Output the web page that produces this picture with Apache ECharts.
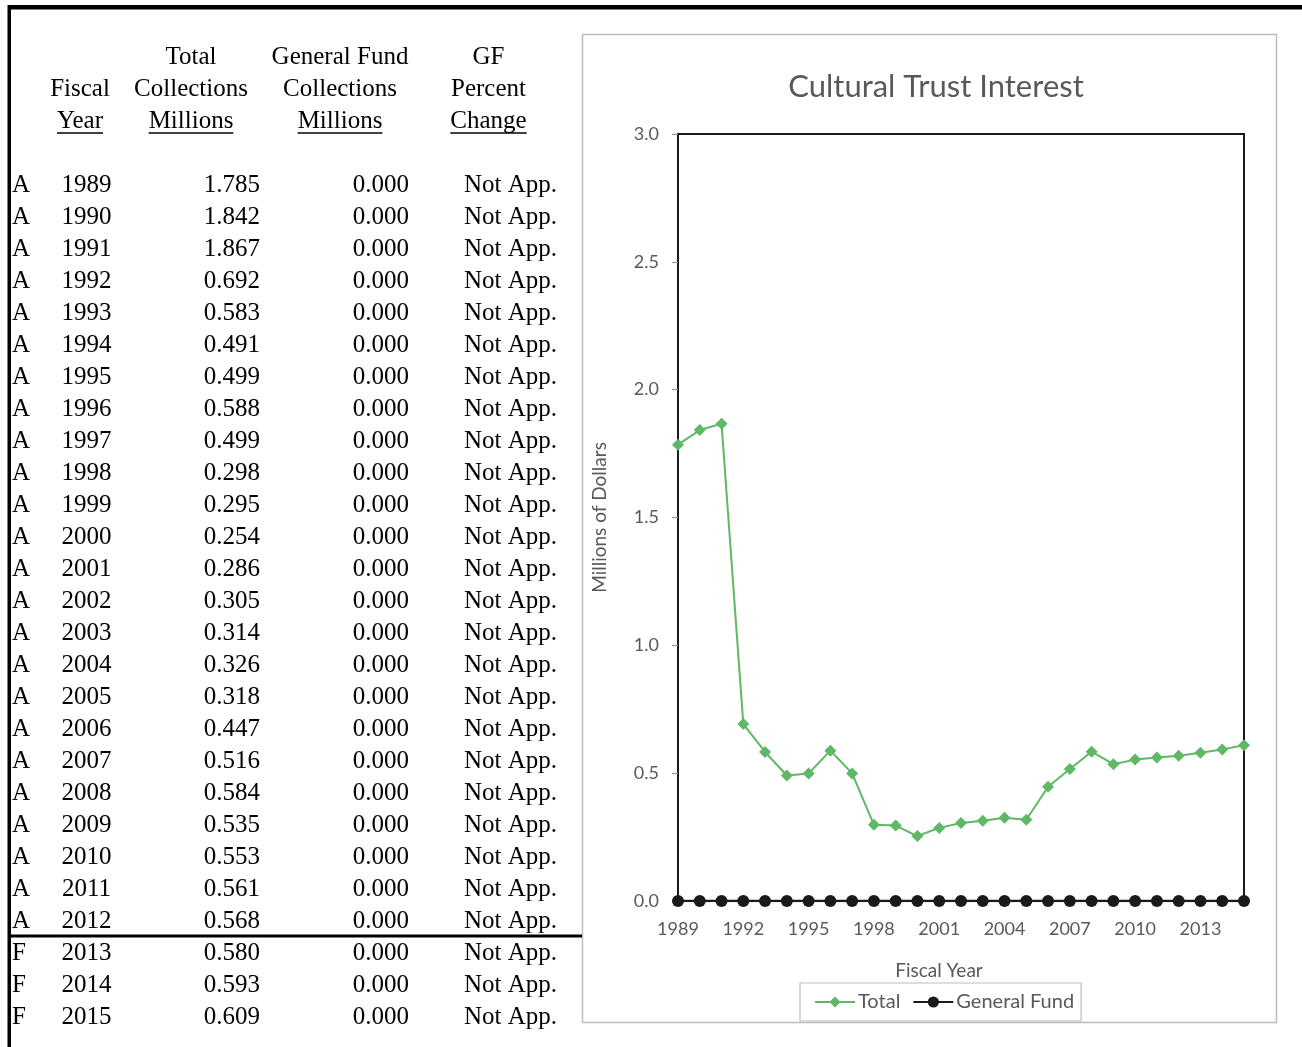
<!DOCTYPE html>
<html>
<head>
<meta charset="utf-8">
<title>Cultural Trust Interest</title>
<script src="https://cdn.jsdelivr.net/npm/echarts@6/dist/echarts.min.js"></script>
<style>
  html, body { margin: 0; padding: 0; background: #ffffff; }
  #chart { width: 1302px; height: 1047px; }
</style>
</head>
<body>
<div id="chart"></div>
<script>
// Fiscal year data: A = actual, F = forecast
const statusCodes = ['A','A','A','A','A','A','A','A','A','A','A','A','A','A','A','A','A','A','A','A','A','A','A','A','F','F','F'];
const fiscalYears = ['1989','1990','1991','1992','1993','1994','1995','1996','1997','1998','1999','2000','2001','2002','2003','2004','2005','2006','2007','2008','2009','2010','2011','2012','2013','2014','2015'];
const totalMillions = [1.785,1.842,1.867,0.692,0.583,0.491,0.499,0.588,0.499,0.298,0.295,0.254,0.286,0.305,0.314,0.326,0.318,0.447,0.516,0.584,0.535,0.553,0.561,0.568,0.580,0.593,0.609];
const generalFundMillions = [0,0,0,0,0,0,0,0,0,0,0,0,0,0,0,0,0,0,0,0,0,0,0,0,0,0,0];
const gfPercentChange = ['Not App.','Not App.','Not App.','Not App.','Not App.','Not App.','Not App.','Not App.','Not App.','Not App.','Not App.','Not App.','Not App.','Not App.','Not App.','Not App.','Not App.','Not App.','Not App.','Not App.','Not App.','Not App.','Not App.','Not App.','Not App.','Not App.','Not App.'];
const yTicks = { min: 0, max: 3, interval: 0.5 };

const serif = '"Liberation Serif", "Times New Roman", serif';
const sans = 'Lato, "Noto Sans", sans-serif';
const tableFontSize = 25;
const green = '#5fb865';
const ink = '#1a1a1a';
const labelGray = '#595959';

// Measure text so header underlines fit the words
const measureCtx = document.createElement('canvas').getContext('2d');
measureCtx.font = tableFontSize + 'px ' + serif;
function textWidth(s) { return measureCtx.measureText(s).width; }

const graphics = [];

// Outer frame of the page
graphics.push({ type: 'rect', shape: { x: 8, y: 5, width: 1294, height: 4.5 }, style: { fill: '#000' }, z: 10 });
graphics.push({ type: 'rect', shape: { x: 7.5, y: 5, width: 3.5, height: 1042 }, style: { fill: '#000' }, z: 10 });

// Chart area box
graphics.push({ type: 'rect', shape: { x: 582.5, y: 34.5, width: 694, height: 988 }, style: { fill: 'none', stroke: '#bdbdbd', lineWidth: 1.5 }, z: 0 });

function tableText(str, x, y, align) {
  graphics.push({
    type: 'text', x: x, y: y, z: 10,
    style: { text: str, font: tableFontSize + 'px ' + serif, fill: '#000', align: align, verticalAlign: 'middle' }
  });
}
function underline(str, cx, y) {
  const w = textWidth(str);
  graphics.push({ type: 'line', z: 10, shape: { x1: cx - w / 2, y1: y, x2: cx + w / 2, y2: y }, style: { stroke: '#000', lineWidth: 1.6 } });
}

// Column headers
const headerRows = [57, 89, 121];
const colCenters = { year: 80, total: 191, gf: 340, pct: 488.5 };
tableText('Total', colCenters.total, headerRows[0], 'center');
tableText('General Fund', colCenters.gf, headerRows[0], 'center');
tableText('GF', colCenters.pct, headerRows[0], 'center');
tableText('Fiscal', colCenters.year, headerRows[1], 'center');
tableText('Collections', colCenters.total, headerRows[1], 'center');
tableText('Collections', colCenters.gf, headerRows[1], 'center');
tableText('Percent', colCenters.pct, headerRows[1], 'center');
tableText('Year', colCenters.year, headerRows[2], 'center');
tableText('Millions', colCenters.total, headerRows[2], 'center');
tableText('Millions', colCenters.gf, headerRows[2], 'center');
tableText('Change', colCenters.pct, headerRows[2], 'center');
underline('Year', colCenters.year, 133);
underline('Millions', colCenters.total, 133);
underline('Millions', colCenters.gf, 133);
underline('Change', colCenters.pct, 133);

// Table body
fiscalYears.forEach(function (yr, i) {
  const y = 185 + 32 * i;
  tableText(statusCodes[i], 12, y, 'left');
  tableText(yr, 86.5, y, 'center');
  tableText(totalMillions[i].toFixed(3), 260, y, 'right');
  tableText(generalFundMillions[i].toFixed(3), 409, y, 'right');
  tableText(gfPercentChange[i], 464, y, 'left');
});

// Rule between actual and forecast years
const lastActual = statusCodes.lastIndexOf('A');
const ruleY = 184 + 32 * lastActual + 16;
graphics.push({ type: 'rect', z: 10, shape: { x: 8, y: ruleY - 1.5, width: 574, height: 3 }, style: { fill: '#000' } });

const chart = echarts.init(document.getElementById('chart'), null, { renderer: 'canvas' });
chart.setOption({
  animation: false,
  backgroundColor: '#ffffff',
  title: {
    text: 'Cultural Trust Interest',
    left: 931, top: 66, textAlign: 'center',
    textStyle: { fontFamily: sans, fontSize: 31, fontWeight: 'normal', color: labelGray }
  },
  grid: {
    left: 678, top: 134, right: 58, bottom: 146,
    show: true, borderColor: ink, borderWidth: 2, backgroundColor: 'transparent'
  },
  legend: {
    left: 800, top: 983,
    padding: [9, 7, 9, 14],
    itemGap: 12, itemWidth: 40, itemHeight: 14,
    borderColor: '#bdbdbd', borderWidth: 1.2,
    textStyle: { fontFamily: sans, fontSize: 20, color: labelGray, padding: [0, 0, 0, -2] },
    data: ['Total', 'General Fund']
  },
  xAxis: {
    type: 'category',
    data: fiscalYears,
    boundaryGap: false,
    name: 'Fiscal Year',
    nameLocation: 'middle',
    nameGap: 60,
    nameTextStyle: { fontFamily: sans, fontSize: 19, color: labelGray, padding: [0, 44, 0, 0] },
    axisLine: { show: true, lineStyle: { color: ink, width: 2 } },
    axisTick: { show: false },
    axisLabel: { interval: 2, margin: 19, fontFamily: sans, fontSize: 18, color: labelGray },
    splitLine: { show: false }
  },
  yAxis: {
    type: 'value',
    min: yTicks.min, max: yTicks.max, interval: yTicks.interval,
    name: 'Millions of Dollars',
    nameLocation: 'middle',
    nameGap: 69,
    nameTextStyle: { fontFamily: sans, fontSize: 19, color: labelGray },
    axisLine: { show: true, lineStyle: { color: ink, width: 2 } },
    axisTick: { show: true, length: 6, lineStyle: { color: '#8c8c8c', width: 1 } },
    axisLabel: { margin: 19, fontFamily: sans, fontSize: 18, color: labelGray, formatter: function (v) { return v.toFixed(1); } },
    splitLine: { show: false }
  },
  series: [
    {
      name: 'Total', type: 'line', data: totalMillions,
      symbol: 'diamond', symbolSize: 12, showAllSymbol: true,
      itemStyle: { color: green },
      lineStyle: { color: green, width: 2 },
      z: 3
    },
    {
      name: 'General Fund', type: 'line', data: generalFundMillions,
      symbol: 'circle', symbolSize: 12, showAllSymbol: true,
      itemStyle: { color: ink },
      lineStyle: { color: ink, width: 2.5 },
      z: 4
    }
  ],
  graphic: graphics
});
</script>
</body>
</html>
